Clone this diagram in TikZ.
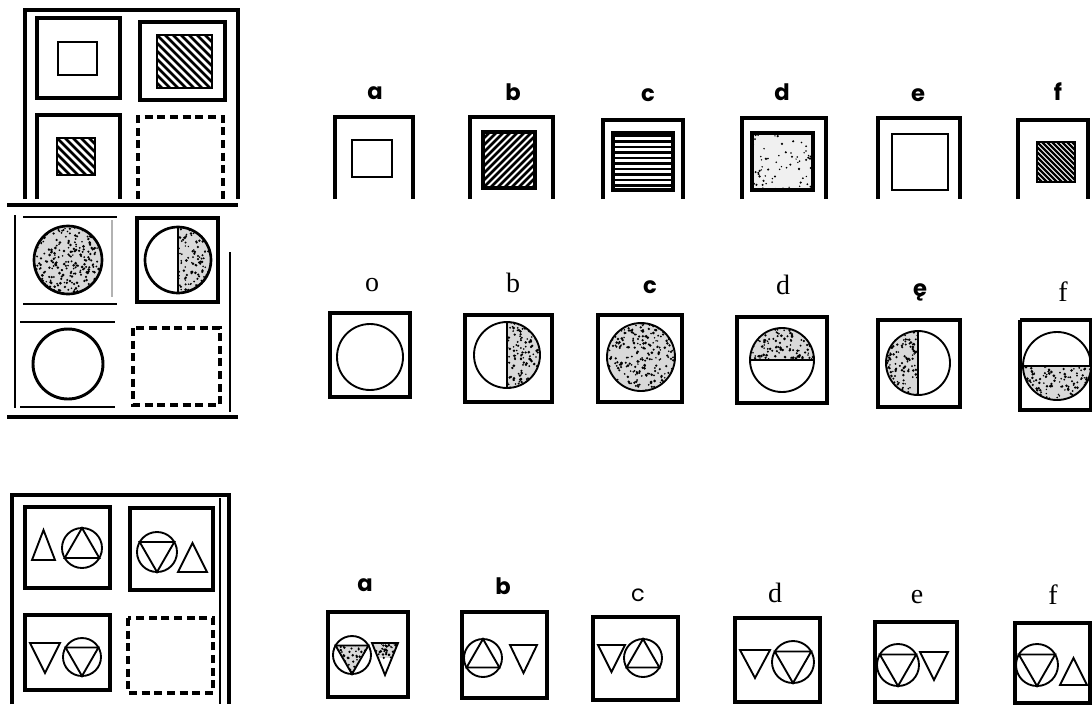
\documentclass[tikz,border=0pt]{standalone}
\usepackage{fontspec}
\setmainfont{Liberation Serif}
\newfontfamily\geo{Poppins}
\tikzset{
 cellbox/.style={line width=2.9pt, line join=miter},
 innerbox/.style={line width=1.9pt},
 ring/.style={line width=1.4pt},
 thinl/.style={line width=1.1pt},
 dashbox/.style={line width=2.4pt, dash pattern=on 6pt off 3.5pt},
 hatchl/.style={line width=2.1pt},
 lsans/.style={font=\geo\bfseries\fontsize{17}{17}\selectfont, inner sep=0pt},
 lsansr/.style={font=\geo\fontsize{17}{17}\selectfont, inner sep=0pt},
 lserif/.style={font=\fontsize{21}{21}\selectfont, inner sep=0pt},
}
\newcommand\Speck[5]{\fill[gray!30] (#1,#2) rectangle (#3,#4);
 \foreach \k in {1,...,#5}{\fill ({#1+rnd*(#3-#1)},{#2+rnd*(#4-#2)}) circle ({0.8+0.7*rnd});}}
\newcommand\HatchBS[4]{\begin{scope}\clip (#1,#2) rectangle (#3,#4);
 \foreach \t in {-72,-64,...,72} \draw[hatchl] ({#1+\t},#2) -- ({#1+\t+(#4-#2)},#4);
 \end{scope}\draw[innerbox] (#1,#2) rectangle (#3,#4);}
\newcommand\HatchBSf[4]{\begin{scope}\clip (#1,#2) rectangle (#3,#4);
 \foreach \t in {-60,-55,...,60} \draw[line width=1.6pt] ({#1+\t},#2) -- ({#1+\t+(#4-#2)},#4);
 \end{scope}\draw[innerbox] (#1,#2) rectangle (#3,#4);}
\newcommand\HatchFS[4]{\begin{scope}\clip (#1,#2) rectangle (#3,#4);
 \foreach \t in {-70,-63,...,70} \draw[line width=1.9pt] ({#1+\t},#4) -- ({#1+\t+(#4-#2)},#2);
 \end{scope}\draw[line width=2.4pt] (#1,#2) rectangle (#3,#4);}
% circle with inscribed triangle: cx cy r dir (1 = pointing down, -1 = up)
\newcommand\CirTri[4]{\draw[ring] (#1,#2) circle (#3);
 \draw[ring] ({#1-0.866*#3},{#2-0.5*#4*#3}) -- ({#1+0.866*#3},{#2-0.5*#4*#3}) -- ({#1},{#2+#4*#3}) -- cycle;}
% free triangle: x1 x2 ybase yapex
\newcommand\Tri[4]{\draw[ring] (#1,#3) -- (#2,#3) -- ({(#1+#2)/2},#4) -- cycle;}
\begin{document}
\begin{tikzpicture}[x=0.75pt,y=-0.75pt]
\pgfmathsetseed{7}
\useasboundingbox (0,0) rectangle (1092,704);
\fill[white] (0,0) rectangle (1092,704);

% ================= TOP-LEFT MATRIX =================
\draw[cellbox] (25,199) -- (25,10) -- (238,10) -- (238,199);
\draw[line width=3.4pt] (7,205) -- (238,205);
\draw[cellbox] (37,18) rectangle (120,98);
\draw[innerbox] (58,42) rectangle (97,75);
\draw[cellbox] (140,22) rectangle (225,100);
\HatchBS{157}{35}{212}{88}
\draw[cellbox] (37,199) -- (37,115) -- (120,115) -- (120,199);
\HatchBS{57}{138}{95}{175}
\draw[dashbox] (138,199) -- (138,117) -- (223,117) -- (223,199);

% ================= TOP OPTIONS =================
\node[lsans] (ta) at (375,93) {a};
\node[lsans] (tb) at (513,92) {b};
\node[lsans] (tc) at (648,95) {c};
\node[lsans] (td) at (782,92) {d};
\node[lsans] (te) at (918,95) {e};
\node[lsans] (tf) at (1058,92) {f};
\draw[cellbox] (335,199) -- (335,117) -- (413,117) -- (413,199);
\draw[innerbox] (352,140) rectangle (392,177);
\draw[cellbox] (470,199) -- (470,117) -- (553,117) -- (553,199);
\HatchFS{483}{132}{535}{188}
\draw[cellbox] (603,199) -- (603,120) -- (683,120) -- (683,199);
\begin{scope}
 \clip (613,133) rectangle (673,190);
 \foreach \yy in {136,141.5,...,190} \draw[line width=1.6pt] (613,\yy) -- (673,\yy);
\end{scope}
\draw[line width=2.8pt] (613,133) rectangle (673,190);
\draw[cellbox] (742,199) -- (742,118) -- (826,118) -- (826,199);
\begin{scope}\clip (752,133) rectangle (813,190); \fill[gray!12] (752,133) rectangle (813,190);
 \foreach \k in {1,...,70}{\fill ({752+rnd*61},{133+rnd*57}) circle ({0.7+0.6*rnd});}\end{scope}
\draw[line width=2.6pt] (752,133) rectangle (813,190);
\draw[cellbox] (878,199) -- (878,118) -- (960,118) -- (960,199);
\draw[innerbox] (892,134) rectangle (948,190);
\draw[cellbox] (1018,199) -- (1018,120) -- (1088,120) -- (1088,199);
\HatchBSf{1037}{142}{1075}{182}

% ================= MIDDLE-LEFT MATRIX =================
\draw[thinl] (15,215) -- (15,408);
\draw[line width=2pt] (230,252) -- (230,412);
\draw[line width=3.4pt] (7,417) -- (238,417);
\draw[thinl] (23,217) -- (117,217);
\draw[thinl] (23,304) -- (117,304);
\draw[thinl, gray!60] (112,220) -- (112,297);
\begin{scope}\clip (68,260) circle (34); \Speck{34}{226}{102}{294}{260}\end{scope}
\draw[line width=2pt] (68,260) circle (34);
\draw[cellbox] (137,218) rectangle (218,302);
\begin{scope}\clip (178,260) circle (33); \clip (178,226) rectangle (212,294); \Speck{178}{226}{212}{294}{130}\end{scope}
\draw[line width=2pt] (178,260) circle (33);
\draw[line width=2pt] (178,227) -- (178,293);
\draw[thinl] (20,322) -- (115,322);
\draw[thinl] (20,407) -- (115,407);
\draw[line width=2.2pt] (68,364) circle (35);
\draw[dashbox] (133,328) rectangle (220,405);

% ================= MIDDLE OPTIONS =================
\node[lserif] (mo) at (372,285) {o};
\node[lserif] (mb) at (513,283) {b};
\node[lsans] (mc) at (650,287) {c};
\node[lserif] (md) at (783,285) {d};
\node[lsans] (me) at (920,292) {ę};
\node[lserif] (mf) at (1063,292) {f};
\draw[cellbox] (330,313) rectangle (410,397);
\draw[ring] (370,357) circle (33);
\draw[cellbox] (465,315) rectangle (552,402);
\begin{scope}\clip (507,355) circle (33); \clip (507,322) rectangle (541,388); \Speck{507}{322}{541}{388}{130}\end{scope}
\draw[ring] (507,355) circle (33);
\draw[ring] (507,322) -- (507,388);
\draw[cellbox] (598,315) rectangle (682,402);
\begin{scope}\clip (641,357) circle (34); \Speck{607}{323}{675}{391}{260}\end{scope}
\draw[ring] (641,357) circle (34);
\draw[cellbox] (737,317) rectangle (827,403);
\begin{scope}\clip (782,360) circle (32); \clip (749,327) rectangle (815,360); \Speck{749}{327}{815}{360}{130}\end{scope}
\draw[ring] (782,360) circle (32);
\draw[ring] (750,360) -- (814,360);
\draw[cellbox] (878,320) rectangle (960,407);
\begin{scope}\clip (918,363) circle (32); \clip (885,330) rectangle (918,396); \Speck{885}{330}{918}{396}{130}\end{scope}
\draw[ring] (918,363) circle (32);
\draw[ring] (918,331) -- (918,395);
\draw[cellbox] (1020,320) -- (1092,320);
\draw[cellbox] (1020,320) -- (1020,410) -- (1092,410);
\draw[cellbox] (1091,320) -- (1091,410);
\begin{scope}\clip (1057,366) circle (34); \clip (1022,366) rectangle (1092,401); \Speck{1022}{366}{1092}{401}{130}\end{scope}
\draw[ring] (1057,366) circle (34);
\draw[ring] (1023,366) -- (1091,366);

% ================= BOTTOM-LEFT MATRIX =================
\draw[cellbox] (12,704) -- (12,495) -- (229,495) -- (229,704);
\draw[line width=1.4pt] (220,498) -- (220,704);
\draw[cellbox] (25,507) rectangle (110,588);
\Tri{32}{55}{560}{530}
\CirTri{82}{548}{20}{-1}
\draw[cellbox] (130,508) rectangle (213,590);
\CirTri{157}{552}{20}{1}
\Tri{178}{207}{572}{543}
\draw[cellbox] (25,615) rectangle (110,690);
\Tri{30}{60}{643}{673}
\CirTri{82}{657}{19}{1}
\draw[dashbox] (128,618) rectangle (213,693);

% ================= BOTTOM OPTIONS =================
\node[lsans] (ba) at (365,585) {a};
\node[lsans] (bb) at (503,586) {b};
\node[lsansr] (bc) at (638,595) {c};
\node[lserif] (bd) at (775,593) {d};
\node[lserif] (be) at (917,597) {e};
\node[lserif] (bf) at (1053,595) {f};
\draw[cellbox] (328,612) rectangle (408,697);
\begin{scope}\clip (352-16.5,645.5) -- (352+16.5,645.5) -- (352,674) -- cycle; \Speck{335}{645}{369}{674}{60}\end{scope}
\CirTri{352}{655}{19}{1}
\begin{scope}\clip (372,643) -- (398,643) -- (385,675) -- cycle; \Speck{372}{643}{398}{658}{35}\end{scope}
\Tri{372}{398}{643}{675}
\draw[cellbox] (462,612) rectangle (547,698);
\CirTri{483}{658}{19}{-1}
\Tri{510}{537}{645}{673}
\draw[cellbox] (593,617) rectangle (678,700);
\Tri{598}{625}{645}{672}
\CirTri{643}{658}{19}{-1}
\draw[cellbox] (735,618) rectangle (820,702);
\Tri{740}{770}{650}{678}
\CirTri{793}{662}{21}{1}
\draw[cellbox] (875,622) rectangle (957,702);
\CirTri{898}{665}{21}{1}
\Tri{920}{948}{652}{680}
\draw[cellbox] (1015,623) rectangle (1090,703);
\CirTri{1037}{665}{21}{1}
\Tri{1060}{1087}{685}{658}
\end{tikzpicture}
\end{document}
